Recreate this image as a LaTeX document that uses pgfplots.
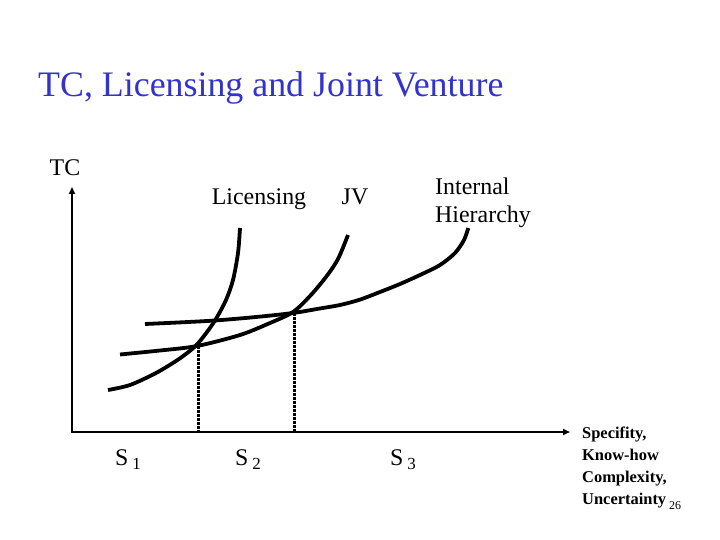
\documentclass[border=0pt]{standalone}
\usepackage{pgfplots}
\pgfplotsset{compat=1.18}
\usepackage{fontspec}
\setmainfont{Liberation Serif}
\usetikzlibrary{arrows.meta}
\definecolor{titleblue}{RGB}{51,51,204}
\newcommand{\fs}[1]{\fontsize{#1}{#1}\selectfont}
\newcommand{\Ssub}[1]{S\,\raisebox{-4bp}{\fs{17}#1}}
\begin{document}
\begin{tikzpicture}
\begin{axis}[
  width=720bp, height=540bp, scale only axis,
  xmin=0, xmax=720, ymin=0, ymax=540, y dir=reverse,
  hide axis, clip=false,
]
\path (rel axis cs:0,0) rectangle (rel axis cs:1,1);
% axes
\addplot[black, line width=2.8bp, {Triangle[length=7bp,width=6bp]}-{Triangle[length=7bp,width=6bp]}]
  coordinates {(72,187) (72,432) (570,432)};
% Licensing
\addplot[black, line width=3.8bp, smooth]
  coordinates {(108,390) (130,385) (156,373) (179,359) (195.5,346) (207,332) (216.5,318) (226,300) (233,280) (238,253) (240,228)};
% JV
\addplot[black, line width=3.8bp, smooth]
  coordinates {(120,354.5) (160,350.5) (197,346) (240,335) (270,323) (293,312) (310,296) (326,277) (338,259) (348,235)};
% Internal Hierarchy
\addplot[black, line width=3.8bp, smooth]
  coordinates {(145,324) (180,322.4) (215,320.5) (255,317.1) (293,313) (318,308.8) (340,305) (360,299.6) (380,292) (400,284) (420,275) (440,265) (455,253) (464,240) (468.3,228)};
% dotted drop lines
\addplot[black, line width=3bp, dash pattern=on 2.5bp off 1.5bp]
  coordinates {(198,346) (198,431)};
\addplot[black, line width=3bp, dash pattern=on 2.5bp off 1.5bp]
  coordinates {(294,313) (294,431)};
% texts
\node[anchor=base west, text=titleblue, font=\fs{36}, inner sep=0pt] at (axis cs:38,97) {TC, Licensing and Joint Venture};
\node[anchor=base, font=\fs{24}, inner sep=0pt] at (axis cs:65,176) {TC};
\node[anchor=base, font=\fs{24}, inner sep=0pt] at (axis cs:259,205) {Licensing};
\node[anchor=base, font=\fs{24}, inner sep=0pt] at (axis cs:355,205) {JV};
\node[anchor=base west, font=\fs{24}, inner sep=0pt] at (axis cs:435,195) {Internal};
\node[anchor=base west, font=\fs{24}, inner sep=0pt] at (axis cs:435,223) {Hierarchy};
\node[anchor=base west, font=\fs{24}, inner sep=0pt] at (axis cs:115,465) {\Ssub{1}};
\node[anchor=base west, font=\fs{24}, inner sep=0pt] at (axis cs:235,465) {\Ssub{2}};
\node[anchor=base west, font=\fs{24}, inner sep=0pt] at (axis cs:390,465) {\Ssub{3}};
\node[anchor=base west, font=\bfseries\fs{16.5}, inner sep=0pt] at (axis cs:582,438) {Specifity,};
\node[anchor=base west, font=\bfseries\fs{16.5}, inner sep=0pt] at (axis cs:582,460) {Know-how};
\node[anchor=base west, font=\bfseries\fs{16.5}, inner sep=0pt] at (axis cs:582,482) {Complexity,};
\node[anchor=base west, font=\bfseries\fs{16.5}, inner sep=0pt] at (axis cs:582,504) {Uncertainty};
\node[anchor=base west, font=\fs{12}, inner sep=0pt] at (axis cs:669,509) {26};
\end{axis}
\end{tikzpicture}
\end{document}
